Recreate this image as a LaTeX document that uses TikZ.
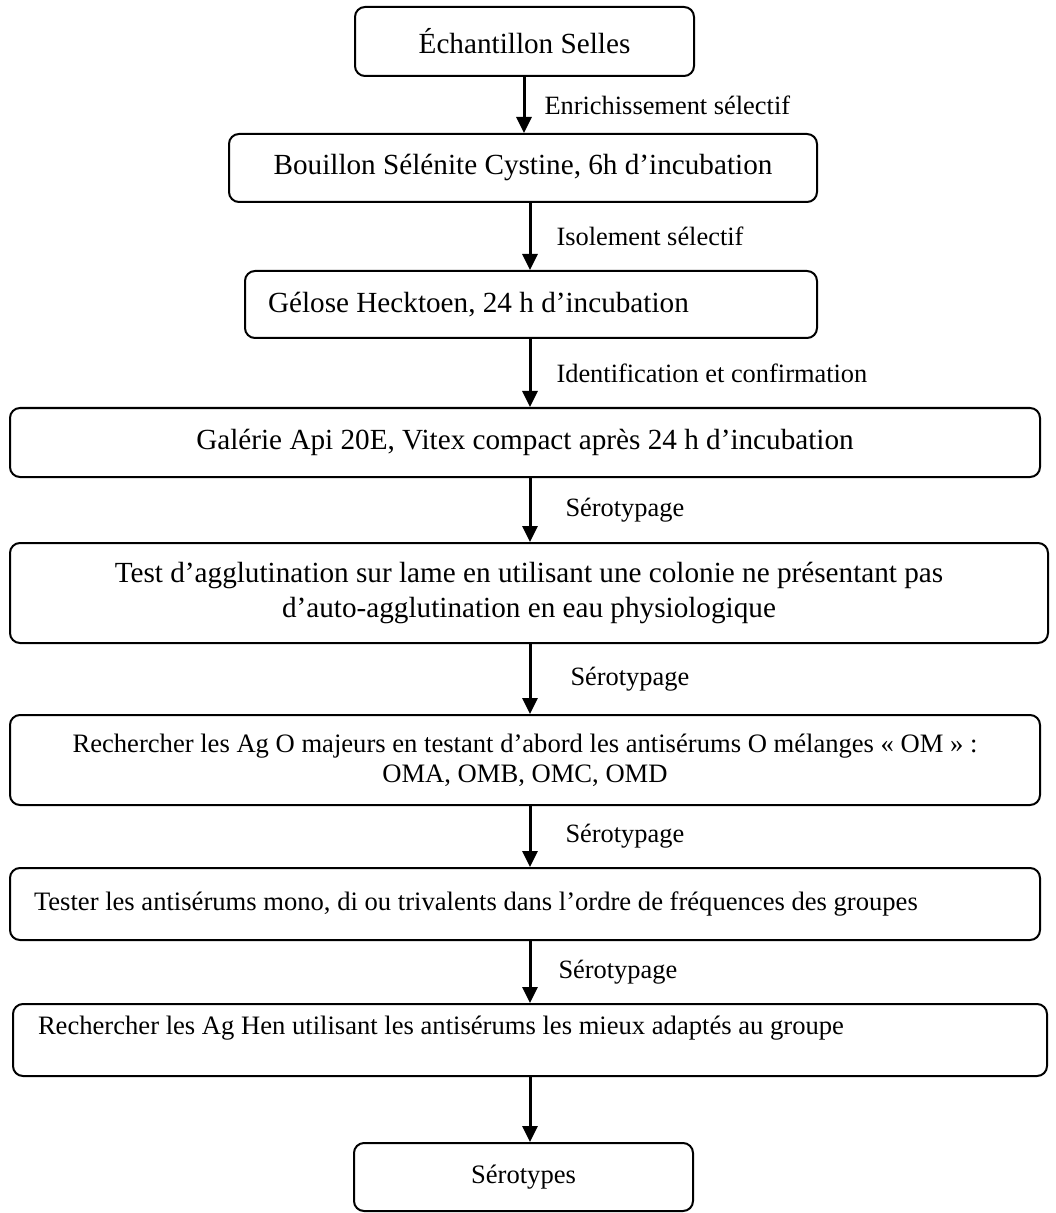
\documentclass[tikz,border=0pt]{standalone}
\usepackage{fontspec}
\setmainfont{Liberation Serif}
\usetikzlibrary{arrows.meta}

\tikzset{
	etape/.style={draw=black, line width=1pt, rounded corners=5pt, inner xsep=6pt, inner ysep=0pt, align=center, font=\fontsize{14.6}{17.5}\selectfont},
	moyen/.style={font=\fontsize{13.3}{15}\selectfont},
	fleche/.style={-{Triangle[width=7.5pt,length=8pt]}, line width=1.5pt},
	lbl/.style={right, inner sep=0pt, font=\fontsize{13.2}{15}\selectfont}
}

\begin{document}
\begin{tikzpicture}[x=0.5pt, y=-0.5pt]
	\useasboundingbox (0,0) rectangle (1055,1213);
	
	\coordinate (axeA) at (524, 0);
	\coordinate (axeB) at (530, 0);
	
	\node[etape, minimum width=169.5pt, minimum height=34.5pt] (selles) at (524.5, 41.5) {Échantillon Selles};
	\node[etape, minimum width=294pt, minimum height=34pt] (bouillon) at (523, 168) {Bouillon Sélénite Cystine, 6h d’incubation};
	\node[etape, minimum width=286pt, minimum height=33.5pt, inner xsep=11.5pt, text width=263pt, align=flush left] (gelose) at (531, 304.5) {Gélose Hecktoen, 24 h d’incubation};
	\node[etape, minimum width=515pt, minimum height=34.5pt] (galerie) at (525, 442.5) {Galérie Api 20E, Vitex compact après 24 h d’incubation};
	\node[etape, minimum width=519pt, minimum height=50pt] (agglu) at (529, 593) {Test d’agglutination sur lame en utilisant une colonie ne présentant pas\\d’auto-agglutination en eau physiologique};
	\node[etape, moyen, minimum width=515pt, minimum height=45pt] (agO) at (525, 760) {Rechercher les Ag O majeurs en testant d’abord les antisérums O mélanges «~OM~»~:\\OMA, OMB, OMC, OMD};
	\node[etape, moyen, minimum width=515pt, minimum height=36pt, inner xsep=12pt, text width=491pt, align=flush left] (mono) at (525, 904) {Tester les antisérums mono, di ou trivalents dans l’ordre de fréquences des groupes};
	\node[etape, moyen, minimum width=517pt, minimum height=36pt, inner xsep=12.5pt, text width=492pt, align=flush left] (agH) at (530, 1040) {Rechercher les Ag Hen utilisant les antisérums les mieux adaptés au groupe\\\mbox{}};
	\node[etape, moyen, minimum width=169.5pt, minimum height=34pt] (sero) at (523.5, 1177) {Sérotypes};
	
	\path[fleche] (selles.south -| axeA) edge node[lbl, xshift=9.5pt] {Enrichissement sélectif} (bouillon.north -| axeA);
	\path[fleche] (bouillon.south -| axeB) edge node[lbl, xshift=12.5pt] {Isolement sélectif} (gelose.north -| axeB);
	\path[fleche] (gelose.south -| axeB) edge node[lbl, xshift=12.5pt] {Identification et confirmation} (galerie.north -| axeB);
	\path[fleche] (galerie.south -| axeB) edge node[lbl, xshift=17pt] {Sérotypage} (agglu.north -| axeB);
	\path[fleche] (agglu.south -| axeB) edge node[lbl, xshift=19.5pt] {Sérotypage} (agO.north -| axeB);
	\path[fleche] (agO.south -| axeB) edge node[lbl, xshift=17pt] {Sérotypage} (mono.north -| axeB);
	\path[fleche] (mono.south -| axeB) edge node[lbl, xshift=13.5pt] {Sérotypage} (agH.north -| axeB);
	\path[fleche] (agH.south -| axeB) edge (sero.north -| axeB);
	
\end{tikzpicture}
\end{document}
